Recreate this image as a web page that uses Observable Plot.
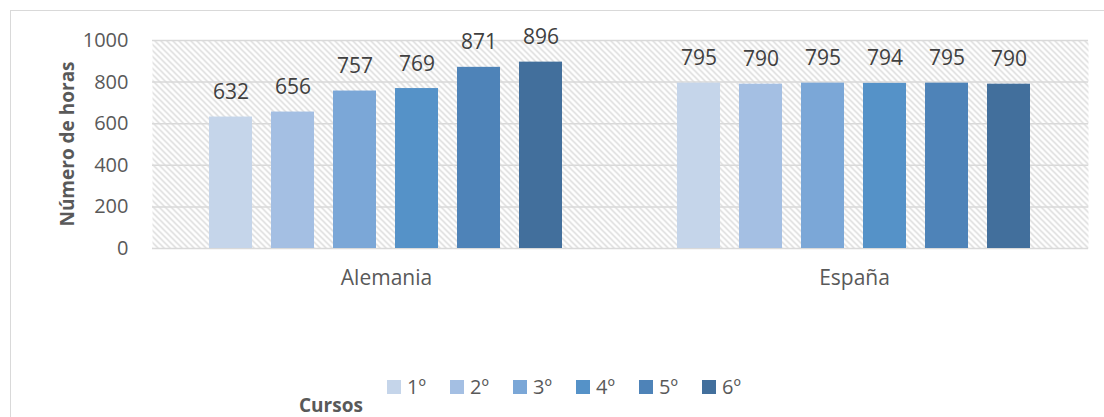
<!DOCTYPE html>
<html>
<head>
<meta charset="utf-8">
<script src="https://cdn.jsdelivr.net/npm/d3@7"></script>
<script src="https://cdn.jsdelivr.net/npm/@observablehq/plot@0.6"></script>
<style>
  html, body { margin: 0; padding: 0; background: #fff; }
  #wrap { position: relative; width: 1104px; height: 417px; overflow: hidden; font-family: "Open Sans", sans-serif; }
  #border { position: absolute; left: 10px; top: 10px; width: 1120px; height: 430px; border: 1.5px solid #d9d9d9; box-sizing: border-box; }
  #chart { position: absolute; left: 0; top: 0; }
  #legend { position: absolute; left: 387px; top: 373px; display: flex; gap: 0; font-size: 20px; color: #595959; }
  .item { display: flex; align-items: center; width: 63px; }
  .sw { width: 14px; height: 14px; margin-right: 6px; }
  #cursos { position: absolute; left: 299px; top: 395px; font-size: 19px; line-height: 20px; font-weight: bold; color: #595959; }
</style>
</head>
<body>
<div id="wrap">
  <div id="border"></div>
  <div id="chart"></div>
  <div id="legend"></div>
  <div id="cursos">Cursos</div>
</div>
<script>
const countries = ["Alemania", "España"];
const cursos = ["1º", "2º", "3º", "4º", "5º", "6º"];
const alemania = [632, 656, 757, 769, 871, 896];
const espana = [795, 790, 795, 794, 795, 790];
const colors = ["#c5d5ea", "#a4bfe3", "#7ba7d7", "#5592c8", "#4e83b8", "#426f9c"];
const yTicks = [0, 200, 400, 600, 800, 1000];

const data = [];
cursos.forEach((c, i) => data.push({country: "Alemania", curso: c, value: alemania[i]}));
cursos.forEach((c, i) => data.push({country: "España", curso: c, value: espana[i]}));

const plot = Plot.plot({
  width: 1104,
  height: 300,
  marginLeft: 152,
  marginRight: 16,
  marginTop: 40,
  marginBottom: 52,
  style: {fontFamily: "Open Sans, sans-serif", background: "transparent", overflow: "visible"},
  fx: {domain: countries, padding: 0, label: null, axis: "bottom", tickSize: 0, tickPadding: 22},
  x: {domain: cursos, paddingInner: 0.306, paddingOuter: 0.927, axis: null},
  y: {domain: [0, 1000], ticks: yTicks, tickFormat: d => String(d), label: null, tickSize: 0, tickPadding: 24},
  color: {domain: cursos, range: colors},
  marks: [
    Plot.frame({fill: "url(#hatch)", stroke: null}),
    Plot.ruleY(yTicks, {stroke: "#d9d9d9", strokeWidth: 1.5, strokeOpacity: 1}),
    Plot.barY(data, {fx: "country", x: "curso", y: "value", fill: "curso"}),
    Plot.text(data, {fx: "country", x: "curso", y: "value", text: d => String(d.value), lineAnchor: "bottom", dy: -18, fontSize: 21, fill: "#404040"})
  ]
});

// hatch pattern
const svg = d3.select(plot);
const defs = svg.insert("defs", ":first-child");
const pat = defs.append("pattern").attr("id", "hatch").attr("patternUnits", "userSpaceOnUse")
  .attr("width", 6).attr("height", 6);
pat.append("rect").attr("width", 6).attr("height", 6).attr("fill", "#ffffff");
pat.append("path").attr("d", "M-1,-1 L7,7 M-4,2 L1,7 M2,-4 L7,1").attr("stroke", "#d6d6d6").attr("stroke-width", 1.3);

svg.selectAll("[aria-label='y-axis tick label']").attr("font-size", 20).attr("fill", "#595959");
svg.selectAll("[aria-label='fx-axis tick label']").attr("font-size", 21).attr("fill", "#595959");

// y label
svg.append("text")
  .attr("transform", "translate(67,144) rotate(-90)")
  .attr("text-anchor", "middle")
  .attr("dominant-baseline", "central")
  .attr("font-size", 19).attr("font-weight", "bold").attr("fill", "#595959")
  .text("Número de horas");

document.getElementById("chart").appendChild(plot);

const legend = document.getElementById("legend");
cursos.forEach((c, i) => {
  const it = document.createElement("div");
  it.className = "item";
  it.innerHTML = `<span class="sw" style="background:${colors[i]}"></span><span>${c}</span>`;
  legend.appendChild(it);
});
</script>
</body>
</html>
